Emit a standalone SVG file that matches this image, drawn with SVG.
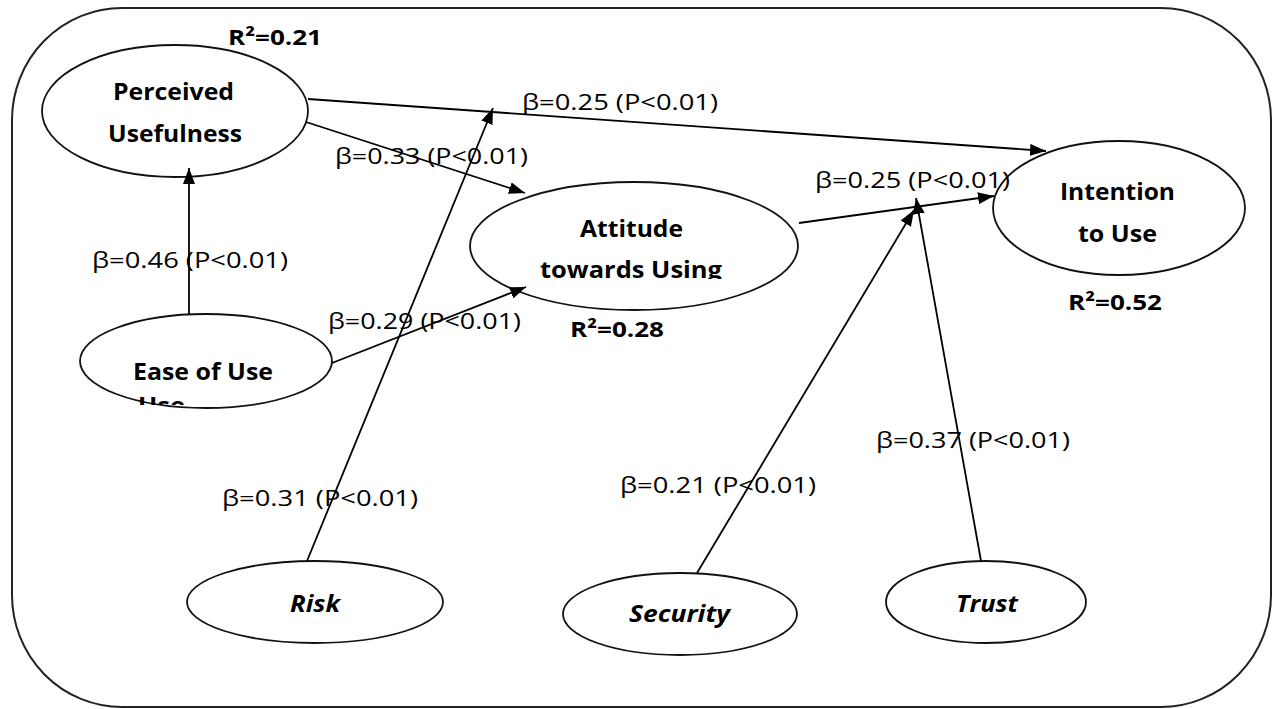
<svg xmlns="http://www.w3.org/2000/svg" width="1274" height="709" viewBox="0 0 1274 709">
  <style>
    .frame { fill: none; stroke: #222; stroke-width: 2; }
    .node { fill: #fff; stroke: #111; stroke-width: 1.8; }
    .ntext { font-family: "Open Sans", "Liberation Sans", sans-serif; font-weight: bold; font-size: 23px; fill: #000; text-anchor: start; }
    .it { font-style: italic; }
    .lbl { font-family: "Open Sans", "Liberation Sans", sans-serif; font-size: 22px; fill: #000; }
    .r2 { font-family: "Open Sans", "Liberation Sans", sans-serif; font-weight: bold; font-size: 22px; fill: #000; }
    .edge { fill: none; stroke: #000; stroke-width: 1.8; marker-end: url(#arrow); }
  </style>
  <defs>
    <marker id="arrow" viewBox="0 0 16 12" refX="16" refY="6" markerWidth="16" markerHeight="12" markerUnits="userSpaceOnUse" orient="auto">
      <path d="M0,0 L16,6 L0,12 z" fill="#000"/>
    </marker>
    <clipPath id="clipAtt"><rect x="470" y="183" width="330" height="96"/></clipPath>
    <clipPath id="clipEase"><rect x="80" y="314" width="254" height="91"/></clipPath>
  </defs>

  <rect class="frame" x="12" y="8" width="1259" height="699" rx="110" ry="112"/>

  <!-- nodes -->
  <g id="perceived-usefulness">
    <ellipse class="node" cx="175" cy="111" rx="133" ry="66"/>
    <text class="ntext" x="113" y="100" textLength="121" lengthAdjust="spacingAndGlyphs">Perceived</text>
    <text class="ntext" x="108" y="142" textLength="134" lengthAdjust="spacingAndGlyphs">Usefulness</text>
  </g>
  <g id="ease-of-use">
    <ellipse class="node" cx="206" cy="361" rx="126" ry="47"/>
    <g clip-path="url(#clipEase)">
      <text class="ntext" x="133" y="380" textLength="140" lengthAdjust="spacingAndGlyphs">Ease of Use</text>
      <text class="ntext" x="138" y="414" textLength="47" lengthAdjust="spacingAndGlyphs">Use</text>
    </g>
  </g>
  <g id="attitude">
    <ellipse class="node" cx="634" cy="246" rx="164" ry="64"/>
    <g clip-path="url(#clipAtt)">
      <text class="ntext" x="580" y="237" textLength="103" lengthAdjust="spacingAndGlyphs">Attitude</text>
      <text class="ntext" x="540" y="278" textLength="182" lengthAdjust="spacingAndGlyphs">towards Using</text>
    </g>
  </g>
  <g id="intention">
    <ellipse class="node" cx="1119" cy="208" rx="126" ry="67"/>
    <text class="ntext" x="1060" y="200" textLength="115" lengthAdjust="spacingAndGlyphs">Intention</text>
    <text class="ntext" x="1078" y="242" textLength="79" lengthAdjust="spacingAndGlyphs">to Use</text>
  </g>
  <g id="risk">
    <ellipse class="node" cx="315" cy="602" rx="128" ry="41"/>
    <text class="ntext it" x="290" y="612" textLength="50" lengthAdjust="spacingAndGlyphs">Risk</text>
  </g>
  <g id="security">
    <ellipse class="node" cx="680" cy="614" rx="117" ry="41"/>
    <text class="ntext it" x="629" y="622" textLength="101" lengthAdjust="spacingAndGlyphs">Security</text>
  </g>
  <g id="trust">
    <ellipse class="node" cx="986" cy="602" rx="100" ry="41"/>
    <text class="ntext it" x="956" y="612" textLength="62" lengthAdjust="spacingAndGlyphs">Trust</text>
  </g>

  <!-- labels -->
  <g id="labels">
    <text class="r2" x="228" y="45" textLength="94" lengthAdjust="spacingAndGlyphs">R²=0.21</text>
    <text class="r2" x="570" y="337" textLength="94" lengthAdjust="spacingAndGlyphs">R²=0.28</text>
    <text class="r2" x="1068" y="310" textLength="94" lengthAdjust="spacingAndGlyphs">R²=0.52</text>
    <text class="lbl" x="522" y="110" textLength="196" lengthAdjust="spacingAndGlyphs">β=0.25 (P&lt;0.01)</text>
    <text class="lbl" x="335" y="164" textLength="193" lengthAdjust="spacingAndGlyphs">β=0.33 (P&lt;0.01)</text>
    <text class="lbl" x="92" y="268" textLength="196" lengthAdjust="spacingAndGlyphs">β=0.46 (P&lt;0.01)</text>
    <text class="lbl" x="328" y="329" textLength="193" lengthAdjust="spacingAndGlyphs">β=0.29 (P&lt;0.01)</text>
    <text class="lbl" x="815" y="188" textLength="195" lengthAdjust="spacingAndGlyphs">β=0.25 (P&lt;0.01)</text>
    <text class="lbl" x="876" y="448" textLength="194" lengthAdjust="spacingAndGlyphs">β=0.37 (P&lt;0.01)</text>
    <text class="lbl" x="620" y="493" textLength="196" lengthAdjust="spacingAndGlyphs">β=0.21 (P&lt;0.01)</text>
    <text class="lbl" x="222" y="506" textLength="196" lengthAdjust="spacingAndGlyphs">β=0.31 (P&lt;0.01)</text>
  </g>

  <!-- connectors -->
  <g id="connectors">
    <line class="edge" x1="308" y1="99" x2="1046" y2="151"/>
    <line class="edge" x1="306" y1="122" x2="525" y2="193"/>
    <line class="edge" x1="189" y1="314" x2="189" y2="168"/>
    <line class="edge" x1="332" y1="363" x2="526" y2="287"/>
    <line class="edge" x1="799" y1="223" x2="994" y2="196"/>
    <line class="edge" x1="307" y1="561" x2="493" y2="108"/>
    <line class="edge" x1="697" y1="573" x2="914" y2="210"/>
    <line class="edge" x1="981" y1="561" x2="916" y2="198"/>
  </g>
</svg>
